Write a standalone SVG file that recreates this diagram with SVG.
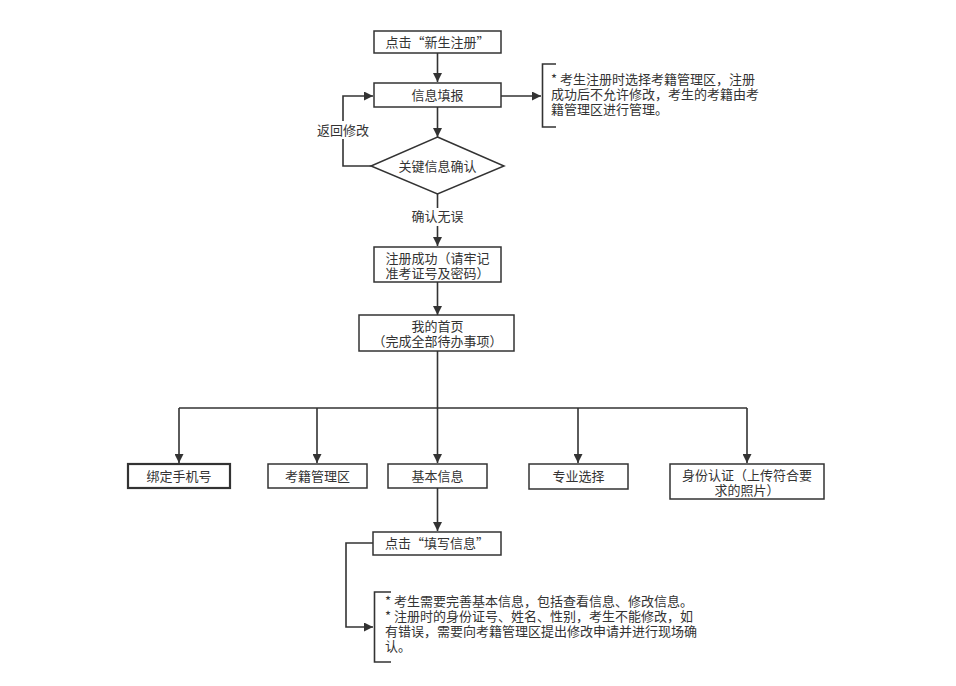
<svg xmlns="http://www.w3.org/2000/svg" width="956" height="686" viewBox="0 0 956 686">
<defs>
<style>
.box{fill:#fff;stroke:#333;stroke-width:1.5}
.thick{stroke-width:2.2}
.t{font-family:"Noto Sans CJK SC","Noto Sans",sans-serif;font-size:13px;fill:#333;text-anchor:middle}
.tl{font-family:"Noto Sans CJK SC","Noto Sans",sans-serif;font-size:13px;fill:#333}
.c{fill:none;stroke:#333;stroke-width:1.6}
.lbl{fill:#fff;stroke:none}
</style>
<marker id="ah" viewBox="0 0 10 10" refX="10" refY="5" markerWidth="10" markerHeight="9" markerUnits="userSpaceOnUse" orient="auto">
<path d="M0,0 L10,5 L0,10 z" fill="#333"/>
</marker>
</defs>
<rect width="956" height="686" fill="#fff"/>
<g id="connectors">
<path class="c" d="M437.5,53 V82" marker-end="url(#ah)"/>
<path class="c" d="M437.5,107 V137" marker-end="url(#ah)"/>
<path class="c" d="M371,166 H343 V96 H373" marker-end="url(#ah)"/>
<path class="c" d="M501,96 H541" marker-end="url(#ah)"/>
<path class="c" d="M437.5,194 V246" marker-end="url(#ah)"/>
<path class="c" d="M437.5,282 V315" marker-end="url(#ah)"/>
<path class="c" d="M437.5,351 V408"/>
<path class="c" d="M179,408 H747"/>
<path class="c" d="M179,408 V463" marker-end="url(#ah)"/>
<path class="c" d="M317,408 V463" marker-end="url(#ah)"/>
<path class="c" d="M437.5,408 V463" marker-end="url(#ah)"/>
<path class="c" d="M578,408 V463" marker-end="url(#ah)"/>
<path class="c" d="M747,408 V463" marker-end="url(#ah)"/>
<path class="c" d="M437.5,488 V531" marker-end="url(#ah)"/>
<path class="c" d="M373,543 H346 V627 H373" marker-end="url(#ah)"/>
<rect class="lbl" x="316" y="121" width="54" height="18"/>
<text class="t" x="343" y="134.5">返回修改</text>
<rect class="lbl" x="410" y="208" width="55" height="18"/>
<text class="t" x="437.5" y="221">确认无误</text>
</g>
<g id="n1"><rect class="box" x="374" y="31" width="127" height="22"/><text class="t" x="437.5" y="46.5">点击“新生注册”</text></g>
<g id="n2"><rect class="box" x="374" y="83" width="127" height="24"/><text class="t" x="437.5" y="99.5">信息填报</text></g>
<g id="n3"><path class="box" d="M437.5,137 L504,166 L437.5,194 L371,166 Z"/><text class="t" x="437.5" y="170.5">关键信息确认</text></g>
<g id="note1">
<path class="c" d="M556,64 H542.5 V127 H556"/>
<text class="tl" x="551" y="84"><tspan x="551">* 考生注册时选择考籍管理区，注册</tspan><tspan x="551" dy="15">成功后不允许修改，考生的考籍由考</tspan><tspan x="551" dy="15">籍管理区进行管理。</tspan></text>
</g>
<g id="n4"><rect class="box" x="374" y="247" width="127" height="35"/><text class="t" x="437.5" y="263"><tspan x="437.5">注册成功（请牢记</tspan><tspan x="437.5" dy="15">准考证号及密码）</tspan></text></g>
<g id="n5"><rect class="box" x="359" y="315" width="155" height="36"/><text class="t" x="437.5" y="331"><tspan x="437.5">我的首页</tspan><tspan x="437.5" dy="15">（完成全部待办事项）</tspan></text></g>
<g id="n6"><rect class="box thick" x="128" y="464" width="102" height="24"/><text class="t" x="179" y="480.5">绑定手机号</text></g>
<g id="n7"><rect class="box" x="268" y="464" width="99" height="24"/><text class="t" x="317.5" y="480.5">考籍管理区</text></g>
<g id="n8"><rect class="box" x="388" y="464" width="99" height="24"/><text class="t" x="437.5" y="480.5">基本信息</text></g>
<g id="n9"><rect class="box" x="529" y="464" width="99" height="25"/><text class="t" x="578.5" y="481">专业选择</text></g>
<g id="n10"><rect class="box" x="670" y="464" width="154" height="35"/><text class="t" x="747" y="479.5"><tspan x="747">身份认证（上传符合要</tspan><tspan x="747" dy="15">求的照片）</tspan></text></g>
<g id="n11"><rect class="box" x="373" y="532" width="128" height="23"/><text class="t" x="437" y="548">点击“填写信息”</text></g>
<g id="note2">
<path class="c" d="M391,592 H374.5 V662 H391"/>
<text class="tl" x="385" y="605.5"><tspan x="385">* 考生需要完善基本信息，包括查看信息、修改信息。</tspan><tspan x="385" dy="15.2">* 注册时的身份证号、姓名、性别，考生不能修改，如</tspan><tspan x="385" dy="15.2">有错误，需要向考籍管理区提出修改申请并进行现场确</tspan><tspan x="385" dy="15.2">认。</tspan></text>
</g>
</svg>
